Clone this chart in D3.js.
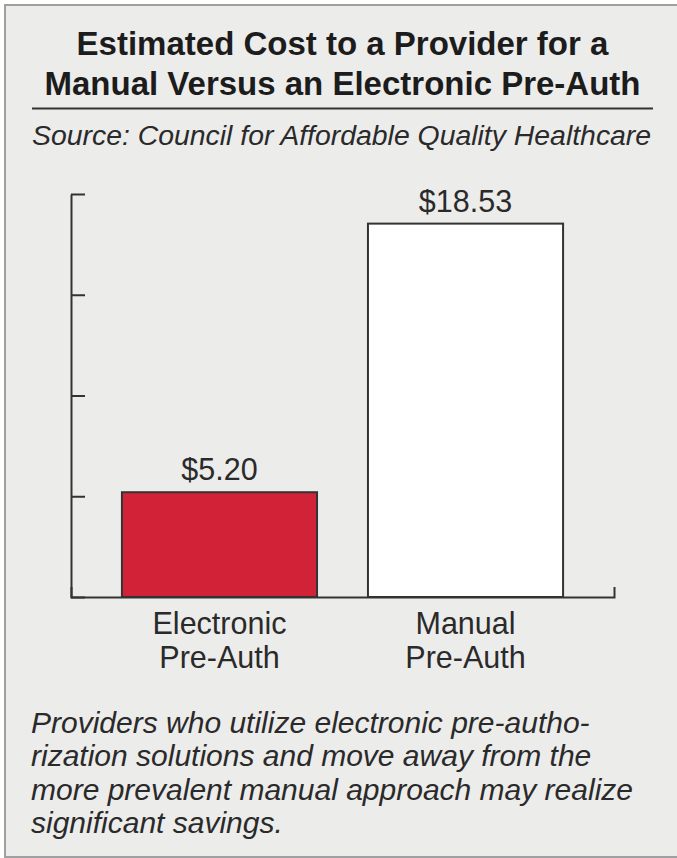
<!DOCTYPE html>
<html>
<head>
<meta charset="utf-8">
<script src="https://cdn.jsdelivr.net/npm/d3@7"></script>
<style>
  html, body { margin: 0; padding: 0; background: #ffffff; }
  svg { display: block; }
</style>
</head>
<body>
<script>
// Cost per pre-authorization, in US dollars
const categories = ["Electronic Pre-Auth", "Manual Pre-Auth"];
const costs = [5.20, 18.53];
const valueLabels = ["$5.20", "$18.53"];
const yTicks = [0, 5, 10, 15, 20];

const titleLines = [
  "Estimated Cost to a Provider for a",
  "Manual Versus an Electronic Pre-Auth"
];
const sourceText = "Source: Council for Affordable Quality Healthcare";
const noteLines = [
  "Providers who utilize electronic pre-autho-",
  "rization solutions and move away from the",
  "more prevalent manual approach may realize",
  "significant savings."
];

const W = 677, H = 858;
const FONT = "'Liberation Sans', Arial, Helvetica, sans-serif";
const INK = "#2a2a2a";
const AXIS = "#333333";
const barFills = ["#d22238", "#ffffff"];

const svg = d3.select("body").append("svg")
  .attr("width", W).attr("height", H);

// panel
svg.append("rect")
  .attr("x", 5).attr("y", 5)
  .attr("width", W + 10).attr("height", 852)
  .attr("fill", "#ececeb")
  .attr("stroke", "#a0a0a0")
  .attr("stroke-width", 2);

// title
const cx = 342.5;
svg.append("g").selectAll("text")
  .data(titleLines).join("text")
  .attr("x", cx)
  .attr("y", (d, i) => 55 + i * 40)
  .attr("text-anchor", "middle")
  .attr("font-family", FONT)
  .attr("font-weight", "bold")
  .attr("font-size", 33)
  .attr("fill", "#1c1c1c")
  .text(d => d);

svg.append("line")
  .attr("x1", 32).attr("x2", 653)
  .attr("y1", 108.5).attr("y2", 108.5)
  .attr("stroke", AXIS).attr("stroke-width", 2);

svg.append("text")
  .attr("x", 32).attr("y", 145)
  .attr("font-family", FONT)
  .attr("font-style", "italic")
  .attr("font-size", 28.4)
  .attr("fill", INK)
  .text(sourceText);

// scales
const x = d3.scaleBand()
  .domain(categories)
  .range([71, 614])
  .paddingInner(0.207)
  .paddingOuter(0.207);

const y = d3.scaleLinear()
  .domain([0, 20])
  .range([597, 194]);

// bars
svg.append("g").selectAll("rect")
  .data(costs).join("rect")
  .attr("x", (d, i) => x(categories[i]))
  .attr("y", d => y(d))
  .attr("width", x.bandwidth())
  .attr("height", d => y(0) - y(d))
  .attr("fill", (d, i) => barFills[i])
  .attr("stroke", AXIS)
  .attr("stroke-width", 2);

// value labels
svg.append("g").selectAll("text")
  .data(costs).join("text")
  .attr("x", (d, i) => x(categories[i]) + x.bandwidth() / 2)
  .attr("y", d => y(d) - 12)
  .attr("text-anchor", "middle")
  .attr("font-family", FONT)
  .attr("font-size", 30.5)
  .attr("fill", INK)
  .text((d, i) => valueLabels[i]);

// y axis, ticks pointing into the plot
const yAxis = svg.append("g")
  .attr("transform", `translate(${x.range()[0]},0)`)
  .call(d3.axisLeft(y).tickValues(yTicks).tickSizeInner(-14).tickSizeOuter(0).tickFormat(""));
yAxis.selectAll("path, line").attr("stroke", AXIS).attr("stroke-width", 2);

// x axis baseline with end ticks turned up
const xAxis = svg.append("g")
  .attr("transform", `translate(0,${y(0)})`)
  .call(d3.axisBottom(x).tickSizeInner(0).tickSizeOuter(-10).tickPadding(0));
xAxis.select(".domain").attr("stroke", AXIS).attr("stroke-width", 2).attr("fill", "none");
xAxis.selectAll(".tick line").remove();
xAxis.selectAll(".tick text").each(function(d) {
  const t = d3.select(this);
  const words = d.split(" ");
  t.text(null)
    .attr("y", null).attr("dy", null)
    .attr("font-family", FONT)
    .attr("font-size", 30.5)
    .attr("fill", INK);
  words.forEach((w, i) => {
    t.append("tspan").attr("x", 0).attr("y", 37 + i * 34).text(w);
  });
});

// note
svg.append("g").selectAll("text")
  .data(noteLines).join("text")
  .attr("x", 31)
  .attr("y", (d, i) => 733 + i * 33.3)
  .attr("font-family", FONT)
  .attr("font-style", "italic")
  .attr("font-size", 30)
  .attr("fill", INK)
  .text(d => d);
</script>
</body>
</html>
